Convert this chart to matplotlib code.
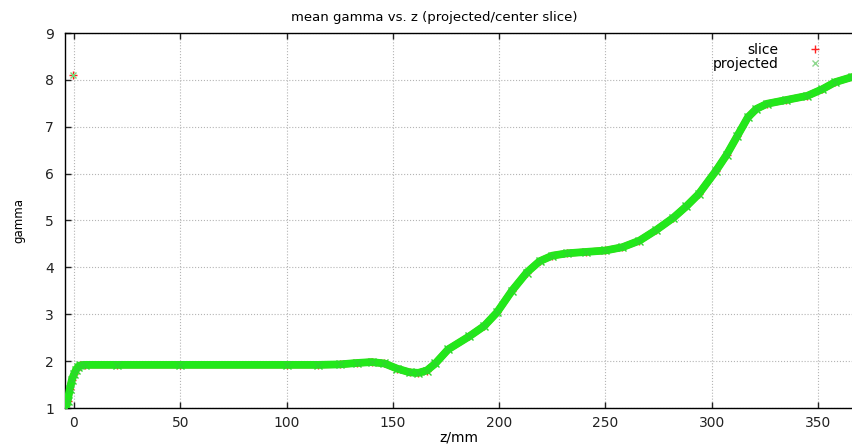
import numpy as np
import matplotlib.pyplot as plt

plt.rcParams['font.family'] = ['DejaVu Sans']

# mean gamma along z, read in mm
z = [-3.8, -3, -2, -1, 0, 1, 2, 3, 5, 20, 50, 100, 115, 125, 133, 140, 146,
     152, 158, 162, 166, 170, 176, 186, 193, 199, 206, 213, 219, 225, 232,
     241, 250, 258, 266, 274, 282, 288, 294, 302, 307, 312, 317, 321, 326,
     335, 345, 352, 358, 366]
gamma = [1.0, 1.15, 1.4, 1.6, 1.72, 1.82, 1.88, 1.91, 1.92, 1.92, 1.92, 1.92,
         1.92, 1.93, 1.96, 1.98, 1.95, 1.84, 1.76, 1.75, 1.8, 1.95, 2.25,
         2.53, 2.75, 3.04, 3.5, 3.89, 4.13, 4.25, 4.3, 4.33, 4.36, 4.43,
         4.57, 4.8, 5.06, 5.3, 5.57, 6.06, 6.4, 6.8, 7.2, 7.38, 7.49, 7.57,
         7.66, 7.8, 7.95, 8.06]

# stray point near z=0
z_odd = [-0.5]
gamma_odd = [8.1]

xticks = [0, 50, 100, 150, 200, 250, 300, 350]
yticks = [1, 2, 3, 4, 5, 6, 7, 8, 9]

W, H = 852, 444
fig = plt.figure(figsize=(W / 100, H / 100), dpi=100)
ax = fig.add_axes([65 / W, 1 - 408 / H, (W - 65) / W, (408 - 33) / H])

red = '#ff2020'
green = '#22e81a'

# slice
ax.plot(z, gamma, '-', color=red, lw=5.0, solid_capstyle='round', zorder=2)
ax.plot(z + z_odd, gamma + gamma_odd, '+', color=red, ms=6, mew=1,
        ls='none', label='slice', zorder=2)
# projected
ax.plot(z, gamma, '-', color=green, lw=5.6, solid_capstyle='round', zorder=3)
ax.plot(z, gamma, 'x', color='#2cd82c', ms=6, mew=1.0, ls='none', zorder=4)
ax.plot(z_odd, gamma_odd, 'x', color='#7ad87a', ms=5, mew=1, zorder=4)
ax.plot([], [], 'x', color='#8fd88f', ms=5, mew=1, ls='none', label='projected')

ax.set_xlim(-4.23, 366)
ax.set_ylim(1, 9)
ax.set_xticks(xticks)
ax.set_yticks(yticks)
ax.grid(True, color='#b4b4b4', linestyle=':', linewidth=0.8)
ax.set_axisbelow(True)

ax.spines['right'].set_visible(False)
for s in ['left', 'top', 'bottom']:
    ax.spines[s].set_linewidth(1.0)
ax.tick_params(direction='in', top=True, right=False, length=4, width=1,
               labelsize=10, colors='#222222')
ax.tick_params(axis='y', pad=8)
ax.tick_params(axis='x', pad=6)

ax.set_title('mean gamma vs. z (projected/center slice)', fontsize=9.5,
             x=(434 - 65) / (W - 65), pad=9)
ax.set_xlabel('z/mm', fontsize=10, labelpad=0)
ax.set_ylabel('gamma', fontsize=8.5, labelpad=14)

leg = ax.legend(loc='upper right', bbox_to_anchor=(830 / W, 1 - 36 / H),
                bbox_transform=fig.transFigure, frameon=False, markerfirst=False,
                fontsize=10, borderpad=0, handlelength=1.2, handletextpad=2.0,
                labelspacing=0.0)

fig.savefig('out.png', dpi=100)
